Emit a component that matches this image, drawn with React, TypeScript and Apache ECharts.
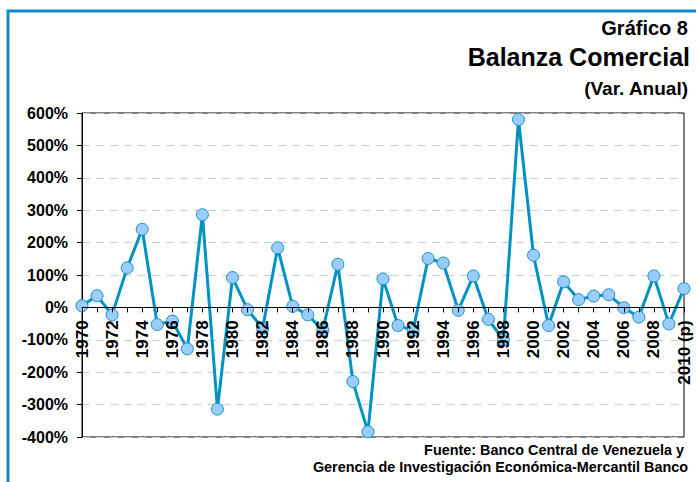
import React, { useEffect, useRef } from "react";
import * as echarts from "echarts";

const years: string[] = [
  "1970", "1971", "1972", "1973", "1974", "1975", "1976", "1977", "1978", "1979",
  "1980", "1981", "1982", "1983", "1984", "1985", "1986", "1987", "1988", "1989",
  "1990", "1991", "1992", "1993", "1994", "1995", "1996", "1997", "1998", "1999",
  "2000", "2001", "2002", "2003", "2004", "2005", "2006", "2007", "2008", "2009",
  "2010 (p)",
];

const balanza: number[] = [
  5, 36, -23, 122, 241, -53, -42, -128, 286, -314,
  92, -7, -65, 184, 3, -23, -70, 133, -229, -384,
  88, -56, -71, 151, 137, -9, 97, -37, -100, 580,
  161, -56, 79, 24, 35, 39, -1, -30, 97, -51,
  58,
];

const yMin = -400;
const yMax = 600;
const yStep = 100;

const titleLines: string[] = ["Gráfico 8", "Balanza Comercial", "(Var. Anual)"];
const sourceLines: string[] = [
  "Fuente: Banco Central de Venezuela y",
  "Gerencia de Investigación Económica-Mercantil Banco",
];

const FONT = "'Liberation Sans', Arial, sans-serif";

const W = 696;
const H = 482;
const gridTop = 113;
const gridBottom = 45;
const plotH = H - gridTop - gridBottom;
const zeroOffset = -(plotH * (0 - yMin)) / (yMax - yMin);

export default function App() {
  const ref = useRef<HTMLDivElement>(null);

  useEffect(() => {
    if (!ref.current) return;
    const chart = echarts.init(ref.current, undefined, { renderer: "svg" });
    chart.setOption({
      animation: false,
      backgroundColor: "#ffffff",
      grid: {
        left: 82,
        right: 12,
        top: gridTop,
        bottom: gridBottom,
        show: true,
        borderColor: "#000000",
        borderWidth: 1,
        backgroundColor: "transparent",
      },
      graphic: [
        {
          type: "rect",
          shape: { x: 8, y: 11, width: 720, height: 520 },
          style: { fill: "none", stroke: "#1289C6", lineWidth: 3 },
          silent: true,
        },
        {
          type: "text",
          right: 8,
          top: 18,
          style: { text: titleLines[0], font: `bold 20px ${FONT}`, fill: "#000", textAlign: "right" },
        },
        {
          type: "text",
          right: 6,
          top: 44,
          style: { text: titleLines[1], font: `bold 25px ${FONT}`, fill: "#000", textAlign: "right" },
        },
        {
          type: "text",
          right: 8,
          top: 79,
          style: { text: titleLines[2], font: `bold 19px ${FONT}`, fill: "#000", textAlign: "right" },
        },
        {
          type: "text",
          right: 12,
          top: 443,
          style: { text: sourceLines[0], font: `bold 14.4px ${FONT}`, fill: "#000", textAlign: "right" },
        },
        {
          type: "text",
          right: 8,
          top: 460,
          style: { text: sourceLines[1], font: `bold 14.4px ${FONT}`, fill: "#000", textAlign: "right" },
        },
      ],
      xAxis: {
        type: "category",
        data: years,
        boundaryGap: false,
        z: 10,
        offset: zeroOffset,
        axisLine: { onZero: false, lineStyle: { color: "#000", width: 1 } },
        axisTick: { show: true, interval: 0, length: 5, lineStyle: { color: "#000" } },
        axisLabel: {
          interval: 1,
          rotate: 90,
          margin: 13,
          color: "#000",
          fontFamily: FONT,
          fontWeight: "bold",
          fontSize: 17,
        },
        splitLine: { show: false },
      },
      yAxis: {
        type: "value",
        min: yMin,
        max: yMax,
        interval: yStep,
        axisLine: { show: true, lineStyle: { color: "#000", width: 1 } },
        axisTick: { show: true, length: 5, lineStyle: { color: "#000" } },
        axisLabel: {
          formatter: "{value}%",
          color: "#000",
          fontFamily: FONT,
          fontWeight: "bold",
          fontSize: 16,
          margin: 14,
        },
        splitLine: { show: true, lineStyle: { color: "#CCCCCC", type: [8, 6], width: 1 } },
      },
      series: [
        {
          type: "line",
          data: balanza,
          symbol: "circle",
          symbolSize: 12,
          showAllSymbol: true,
          lineStyle: { color: "#0092C4", width: 3 },
          itemStyle: { color: "#99CCFF", borderColor: "#1A90C4", borderWidth: 1 },
          z: 2,
        },
      ],
    });
    return () => chart.dispose();
  }, []);

  return (
    <div
      ref={ref}
      style={{ position: "absolute", left: 0, top: 0, width: W, height: H }}
    />
  );
}
